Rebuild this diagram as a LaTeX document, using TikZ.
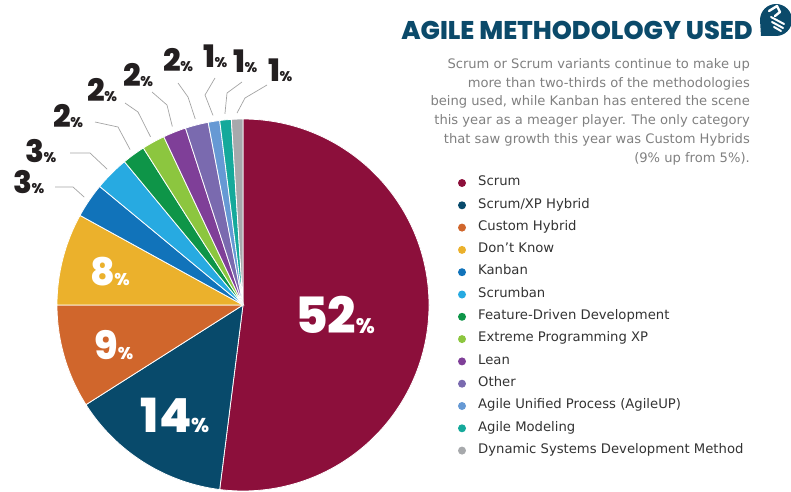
\documentclass[tikz,border=0pt]{standalone}
\usepackage{fontspec}
\setmainfont{DejaVu Sans}
\newfontfamily\numfont{Poppins}[BoldFont={Poppins ExtraBold}]
\usetikzlibrary{calc}
\definecolor{cscrum}{HTML}{8C0F3B}
\definecolor{cscrumxp}{HTML}{084A6B}
\definecolor{ccustom}{HTML}{D0662C}
\definecolor{cdontknow}{HTML}{EBB12C}
\definecolor{ckanban}{HTML}{1173BA}
\definecolor{cscrumban}{HTML}{27AAE1}
\definecolor{cfdd}{HTML}{0E9548}
\definecolor{cxp}{HTML}{8CC63F}
\definecolor{clean}{HTML}{7F3F98}
\definecolor{cother}{HTML}{7A6AAF}
\definecolor{cagileup}{HTML}{6699D4}
\definecolor{cmodel}{HTML}{15A99B}
\definecolor{cdsdm}{HTML}{A7A9AC}
\definecolor{ctitle}{HTML}{0B4A6A}
\definecolor{cdesc}{HTML}{808080}
\definecolor{ckey}{HTML}{333333}
\definecolor{cleader}{HTML}{A3A3A3}
\definecolor{cnum}{HTML}{231F20}
\newcommand\smallpct[1]{{\fontsize{#1}{#1}\selectfont\kern-0.5pt\%}}
\begin{document}
\begin{tikzpicture}[x=1pt,y=1pt,
  slice/.style={draw=white, line width=0.8pt},
  leader/.style={draw=cleader, line width=0.7pt},
  outlbl/.style={anchor=base west, inner sep=0pt, text=cnum, font=\numfont\bfseries\fontsize{31}{31}\selectfont},
  inlbl/.style={inner sep=0pt, text=white, font=\numfont\bfseries},
  key/.style={circle, inner sep=0pt, minimum size=8pt},
  keytext/.style={anchor=mid west, inner sep=0pt, text=ckey, font=\fontsize{13.2}{13.2}\selectfont}]
\useasboundingbox (0,0) rectangle (791,491);
\coordinate (c) at (243,186);
% pie slices, clockwise from the top
\fill[cscrum, slice] (c) -- ++(90:186) arc[start angle=90, end angle=-97.2, radius=186] -- cycle;
\fill[cscrumxp, slice] (c) -- ++(-97.2:186) arc[start angle=-97.2, end angle=-147.6, radius=186] -- cycle;
\fill[ccustom, slice] (c) -- ++(-147.6:186) arc[start angle=-147.6, end angle=-180, radius=186] -- cycle;
\fill[cdontknow, slice] (c) -- ++(180:186) arc[start angle=180, end angle=151.2, radius=186] -- cycle;
\fill[ckanban, slice] (c) -- ++(151.2:186) arc[start angle=151.2, end angle=140.4, radius=186] -- cycle;
\fill[cscrumban, slice] (c) -- ++(140.4:186) arc[start angle=140.4, end angle=129.6, radius=186] -- cycle;
\fill[cfdd, slice] (c) -- ++(129.6:186) arc[start angle=129.6, end angle=122.4, radius=186] -- cycle;
\fill[cxp, slice] (c) -- ++(122.4:186) arc[start angle=122.4, end angle=115.2, radius=186] -- cycle;
\fill[clean, slice] (c) -- ++(115.2:186) arc[start angle=115.2, end angle=108, radius=186] -- cycle;
\fill[cother, slice] (c) -- ++(108:186) arc[start angle=108, end angle=100.8, radius=186] -- cycle;
\fill[cagileup, slice] (c) -- ++(100.8:186) arc[start angle=100.8, end angle=97.2, radius=186] -- cycle;
\fill[cmodel, slice] (c) -- ++(97.2:186) arc[start angle=97.2, end angle=93.6, radius=186] -- cycle;
\fill[cdsdm, slice] (c) -- ++(93.6:186) arc[start angle=93.6, end angle=90, radius=186] -- cycle;
% labels inside
\node[inlbl, font=\numfont\bfseries\fontsize{50}{50}\selectfont] (pct0) at (335,176){52\smallpct{21}};
\node[inlbl, font=\numfont\bfseries\fontsize{47}{47}\selectfont] (pct1) at (175,76){14\smallpct{20}};
\node[inlbl, font=\numfont\bfseries\fontsize{39}{39}\selectfont] (pct2) at (114,146){9\smallpct{17}};
\node[inlbl, font=\numfont\bfseries\fontsize{38}{38}\selectfont] (pct3) at (110,219){8\smallpct{17}};
% labels outside
\node[outlbl] (pct4) at (13,298){3\smallpct{14}};
\node[outlbl] (pct5) at (25,329){3\smallpct{14}};
\node[outlbl] (pct6) at (53,363){2\smallpct{14}};
\node[outlbl] (pct7) at (87,389){2\smallpct{14}};
\node[outlbl] (pct8) at (123,404){2\smallpct{14}};
\node[outlbl] (pct9) at (163,419){2\smallpct{14}};
\node[outlbl] (pct10) at (203,423){1\smallpct{14}};
\node[outlbl] (pct11) at (233,418){1\smallpct{14}};
\node[outlbl] (pct12) at (268,409){1\smallpct{14}};
% leaders
\coordinate (st4) at (55,304);
\coordinate (elb4) at (73,304);
\coordinate (end4) at ($(c)+(145.8:192)$);
\coordinate (st5) at (70,338);
\coordinate (elb5) at (90,338);
\coordinate (end5) at ($(c)+(135:192)$);
\coordinate (st6) at (95,369);
\coordinate (elb6) at (118,364);
\coordinate (end6) at ($(c)+(126:192)$);
\coordinate (st7) at (125,388);
\coordinate (elb7) at (138,379);
\coordinate (end7) at ($(c)+(118.8:192)$);
\coordinate (st8) at (152,399);
\coordinate (elb8) at (167,386);
\coordinate (end8) at ($(c)+(111.6:192)$);
\coordinate (st9) at (178,408);
\coordinate (elb9) at (188,394);
\coordinate (end9) at ($(c)+(104.4:192)$);
\coordinate (st10) at (215,413);
\coordinate (elb10) at (205,396);
\coordinate (end10) at ($(c)+(99:192)$);
\coordinate (st11) at (242,409);
\coordinate (elb11) at (227,398);
\coordinate (end11) at ($(c)+(95.4:192)$);
\coordinate (st12) at (267,406);
\coordinate (elb12) at (245,393);
\coordinate (end12) at ($(c)+(91.8:192)$);
\draw[leader] (st4) -- (elb4) -- (end4);
\draw[leader] (st5) -- (elb5) -- (end5);
\draw[leader] (st6) -- (elb6) -- (end6);
\draw[leader] (st7) -- (elb7) -- (end7);
\draw[leader] (st8) -- (elb8) -- (end8);
\draw[leader] (st9) -- (elb9) -- (end9);
\draw[leader] (st10) -- (elb10) -- (end10);
\draw[leader] (st11) -- (elb11) -- (end11);
\draw[leader] (st12) -- (elb12) -- (end12);
% title and icon
\node[anchor=base east, inner sep=0pt, text=ctitle, font=\numfont\bfseries\fontsize{25.6}{25.6}\selectfont] (title) at (753,451){AGILE METHODOLOGY USED};
\fill[ctitle] (761,455) -- (776,455) arc[start angle=-90, end angle=180, radius=16] -- cycle;
\draw[white, line width=2.4pt, line cap=round, line join=round] (769,480) -- (777,485) -- (780,479) -- (775,475);
\draw[white, line width=2pt, line cap=round] (771,474) -- (784,467) (772,469) -- (783,463) (774,464) -- (781,460);
\node[anchor=north east, inner sep=0pt, align=right, text=cdesc, font=\fontsize{13.1}{18.9}\selectfont] (desc) at (750,433){Scrum or Scrum variants continue to make up\\more than two-thirds of the methodologies\\being used, while Kanban has entered the scene\\this year as a meager player. The only category\\that saw growth this year was Custom Hybrids\\(9\% up from 5\%).};
% legend
\node[key, fill=cscrum] (key0) at (462,308){};
\node[keytext] (txt0) at (478,308){Scrum};
\node[key, fill=cscrumxp] (key1) at (462,285.7){};
\node[keytext] (txt1) at (478,285.7){Scrum/XP Hybrid};
\node[key, fill=ccustom] (key2) at (462,263.4){};
\node[keytext] (txt2) at (478,263.4){Custom Hybrid};
\node[key, fill=cdontknow] (key3) at (462,241.1){};
\node[keytext] (txt3) at (478,241.1){Don’t Know};
\node[key, fill=ckanban] (key4) at (462,218.8){};
\node[keytext] (txt4) at (478,218.8){Kanban};
\node[key, fill=cscrumban] (key5) at (462,196.5){};
\node[keytext] (txt5) at (478,196.5){Scrumban};
\node[key, fill=cfdd] (key6) at (462,174.2){};
\node[keytext] (txt6) at (478,174.2){Feature-Driven Development};
\node[key, fill=cxp] (key7) at (462,151.9){};
\node[keytext] (txt7) at (478,151.9){Extreme Programming XP};
\node[key, fill=clean] (key8) at (462,129.6){};
\node[keytext] (txt8) at (478,129.6){Lean};
\node[key, fill=cother] (key9) at (462,107.3){};
\node[keytext] (txt9) at (478,107.3){Other};
\node[key, fill=cagileup] (key10) at (462,85){};
\node[keytext] (txt10) at (478,85){Agile Unified Process (AgileUP)};
\node[key, fill=cmodel] (key11) at (462,62.7){};
\node[keytext] (txt11) at (478,62.7){Agile Modeling};
\node[key, fill=cdsdm] (key12) at (462,40.4){};
\node[keytext] (txt12) at (478,40.4){Dynamic Systems Development Method};
\end{tikzpicture}
\end{document}
